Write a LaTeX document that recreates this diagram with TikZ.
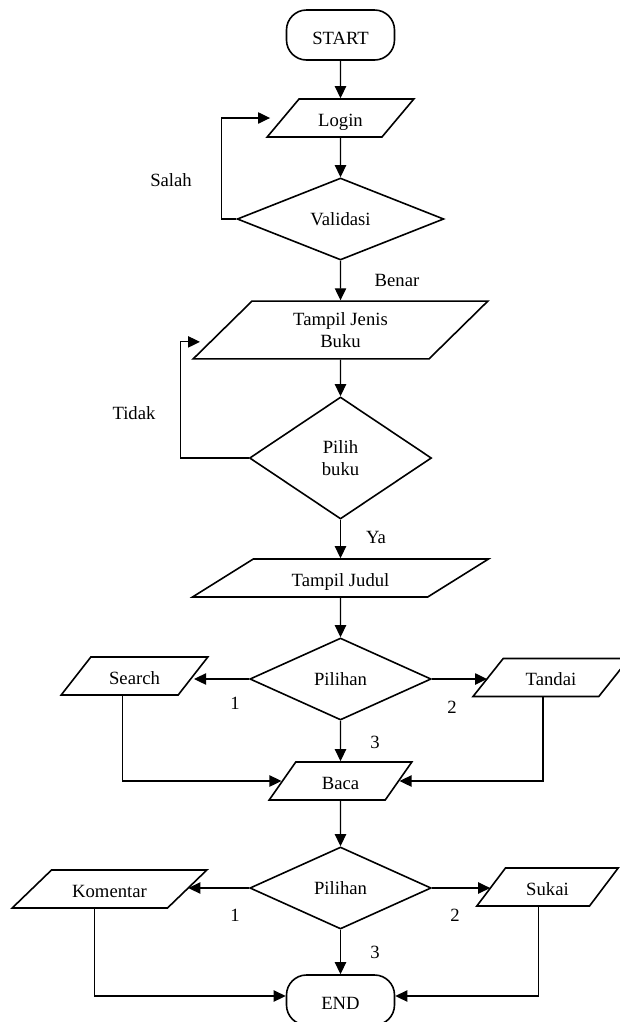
\documentclass[tikz,border=0pt]{standalone}
\usepackage{fontspec}
\setmainfont{Liberation Serif}
\usetikzlibrary{shapes.geometric, arrows.meta, calc}

\begin{document}
\begin{tikzpicture}[
    x=0.75pt, y=-0.75pt,
    font=\fontsize{14}{17}\selectfont,
    terminal/.style={
        rectangle, rounded corners=15pt,
        draw=black, line width=1.2pt,
        minimum width=81pt, minimum height=37.5pt,
        text height=14pt, text depth=0pt, align=center
    },
    io/.style={
        trapezium, trapezium stretches body,
        draw=black, line width=1.2pt,
        inner xsep=2pt, align=center
    },
    oneline/.style={text height=13pt, text depth=0.5pt, inner ysep=7.5pt},
    decision/.style={
        diamond, draw=black, line width=1.2pt,
        inner sep=1pt, align=center
    },
    arrow/.style={-{Triangle[length=9pt, width=8.5pt]}, line width=0.9pt},
    lbl/.style={inner sep=1pt},
]
\useasboundingbox (0,0) rectangle (620,1022);

% Posisi
\node[terminal] (start) at (340.5,35) {START};
\node[io, oneline, trapezium left angle=50, trapezium right angle=130,
      minimum width=110pt] (login) at (340.5,118) {Login};
\node[decision, minimum width=155pt, minimum height=61.5pt] (validasi) at (340.5,219) {Validasi};
\node[io, inner ysep=8.25pt, trapezium left angle=44.5, trapezium right angle=135.5,
      minimum width=221pt] (jenis) at (340.5,330) {Tampil Jenis\\Buku};
\node[decision, minimum width=136.5pt, minimum height=91.5pt] (pilih) at (340.5,458) {Pilih\\buku};
\node[io, oneline, trapezium left angle=32, trapezium right angle=148,
      minimum width=222pt] (judul) at (340.5,578) {Tampil Judul};
\node[decision, minimum width=136pt, minimum height=61.5pt] (pil1) at (340.5,679) {Pilihan};
\node[io, oneline, trapezium left angle=52, trapezium right angle=128,
      minimum width=110pt] (search) at (134.5,676) {Search};
\node[io, oneline, trapezium left angle=51.5, trapezium right angle=128.5,
      minimum width=117pt] (tandai) at (551,677.5) {Tandai};
\node[io, oneline, trapezium left angle=55, trapezium right angle=125,
      minimum width=107pt] (baca) at (340.5,781) {Baca};
\node[decision, minimum width=136pt, minimum height=61.5pt] (pil2) at (340.5,888) {Pilihan};
\node[io, oneline, trapezium left angle=44, trapezium right angle=136,
      minimum width=146pt] (komentar) at (109.5,889) {Komentar};
\node[io, oneline, trapezium left angle=53, trapezium right angle=127,
      minimum width=106pt] (sukai) at (547.5,887) {Sukai};
\node[terminal] (end) at (340.5,1000) {END};

% Label
\node[lbl] (salah) at (171,180) {Salah};
\node[lbl] (benar) at (397,280) {Benar};
\node[lbl] (tidak) at (134,413) {Tidak};
\node[lbl] (ya)    at (376,537) {Ya};
\node[lbl] (satu1) at (235,703) {1};
\node[lbl] (dua1)  at (452,707) {2};
\node[lbl] (tiga1) at (375,742) {3};
\node[lbl] (satu2) at (235,915) {1};
\node[lbl] (dua2)  at (455,915) {2};
\node[lbl] (tiga2) at (375,952) {3};

% Alur utama
\draw[arrow] (start) -- (login);
\draw[arrow] (login) -- (validasi);
\draw[arrow] (validasi) -- (jenis);
\draw[arrow] (jenis) -- (pilih);
\draw[arrow] (pilih) -- (judul);
\draw[arrow] (judul) -- (pil1);
\draw[arrow] (pil1) -- (baca);
\draw[arrow] (baca) -- (pil2);
\draw[arrow] (pil2) -- (end);

% Salah -> kembali ke Login
\draw[arrow, shorten >=9pt] (validasi.west) -- ++(-15,0) |- (login.west);

% Tidak -> kembali ke Tampil Jenis Buku
\draw[arrow, shorten >=7pt] (pilih.west) -- ++(-68,0)
    |- ($(jenis.bottom left corner)!0.3!(jenis.top left corner)$);

% Pilihan 1
\draw[arrow] (pil1.west) -- (pil1.west -| search.east);
\draw[arrow] (pil1.east) -- (pil1.east -| tandai.west);
\draw[arrow] ([xshift=-9pt]search.south) |- (baca.west);
\draw[arrow] ([xshift=-6pt]tandai.south) |- (baca.east);

% Pilihan 2
\draw[arrow] (pil2.west) -- (pil2.west -| komentar.east);
\draw[arrow] (pil2.east) -- (pil2.east -| sukai.west);
\draw[arrow] ([xshift=-11pt]komentar.south) |- ([yshift=3pt]end.west);
\draw[arrow] ([xshift=-7pt]sukai.south) |- ([yshift=3pt]end.east);

\end{tikzpicture}
\end{document}
